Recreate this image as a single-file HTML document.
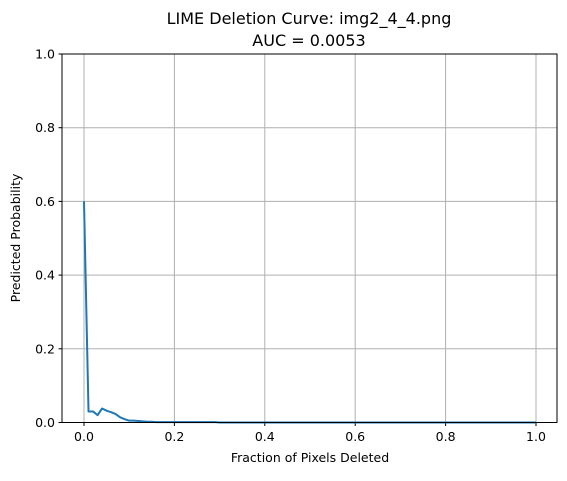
<!DOCTYPE html>
<html><head><meta charset="utf-8"><style>
body{margin:0;background:#fff;font-family:"Liberation Sans","DejaVu Sans",sans-serif}
</style></head><body>
<svg id="c" width="567" height="476" xmlns="http://www.w3.org/2000/svg" font-family="'DejaVu Sans','Liberation Sans',sans-serif">
<text x="309" y="24" text-anchor="middle" font-size="16">LIME Deletion Curve: img2_4_4.png</text>
<text x="309" y="46" text-anchor="middle" font-size="16">AUC = 0.0053</text>
<g id="grid"></g><g id="ticks"></g>
<path id="line" fill="none" stroke="#1f77b4" stroke-width="2" stroke-linejoin="round"/>
<rect x="62" y="54" width="495" height="368.5" fill="none" stroke="#000" stroke-width="1"/>
<text x="310" y="462" text-anchor="middle" font-size="12.5">Fraction of Pixels Deleted</text>
<text transform="translate(20,238) rotate(-90)" text-anchor="middle" font-size="12.5">Predicted Probability</text>
</svg>
<script>
const xTicks=[0,0.2,0.4,0.6,0.8,1.0];
const xTickLabels=["0.0","0.2","0.4","0.6","0.8","1.0"];
const yTicks=[0,0.2,0.4,0.6,0.8,1.0];
const yTickLabels=["0.0","0.2","0.4","0.6","0.8","1.0"];
const yValues=[0.6,0.03,0.03,0.02,0.038,0.032,0.028,0.023,0.014,0.009,0.005,0.005,0.004,0.003,0.002,0.002,0.001,0.001,0.001,0.001,
0.001,0.001,0.001,0.001,0.001,0.001,0.001,0.001,0.001,0.001,0,0,0,0,0,0,0,0,0,0,
0,0,0,0,0,0,0,0,0,0,0,0,0,0,0,0,0,0,0,0,
0,0,0,0,0,0,0,0,0,0,0,0,0,0,0,0,0,0,0,0,
0,0,0,0,0,0,0,0,0,0,0,0,0,0,0,0,0,0,0,0,0];
const xValues=yValues.map((_,i)=>i/(yValues.length-1));
const X=v=>84+v*452, Y=v=>422.5-v*368.5;
const NS="http://www.w3.org/2000/svg";
const g=document.getElementById('grid'),t=document.getElementById('ticks');
function mk(tag,a,p){const e=document.createElementNS(NS,tag);for(const k in a)e.setAttribute(k,a[k]);p.appendChild(e);return e;}
xTicks.forEach((v,i)=>{const x=X(v);
const gl=mk('line',{x1:x,x2:x,y1:54,y2:422.5,stroke:'#b0b0b0','stroke-width':1},g);


mk('line',{x1:x,x2:x,y1:422.5,y2:426,stroke:'#000'},t);
const tx=mk('text',{x:x,y:441,'text-anchor':'middle','font-size':12.5},t);tx.textContent=xTickLabels[i];

});
yTicks.forEach((v,i)=>{const y=Y(v);
const gl=mk('line',{x1:62,x2:557,y1:y,y2:y,stroke:'#b0b0b0','stroke-width':1},g);


mk('line',{x1:58.5,x2:62,y1:y,y2:y,stroke:'#000'},t);
const tx=mk('text',{x:55,y:y+4.5,'text-anchor':'end','font-size':12.5},t);tx.textContent=yTickLabels[i];

});
document.getElementById('line').setAttribute('d',xValues.map((x,i)=>(i?'L':'M')+X(x).toFixed(2)+','+Y(yValues[i]).toFixed(2)).join(''));
</script>
</body></html>
